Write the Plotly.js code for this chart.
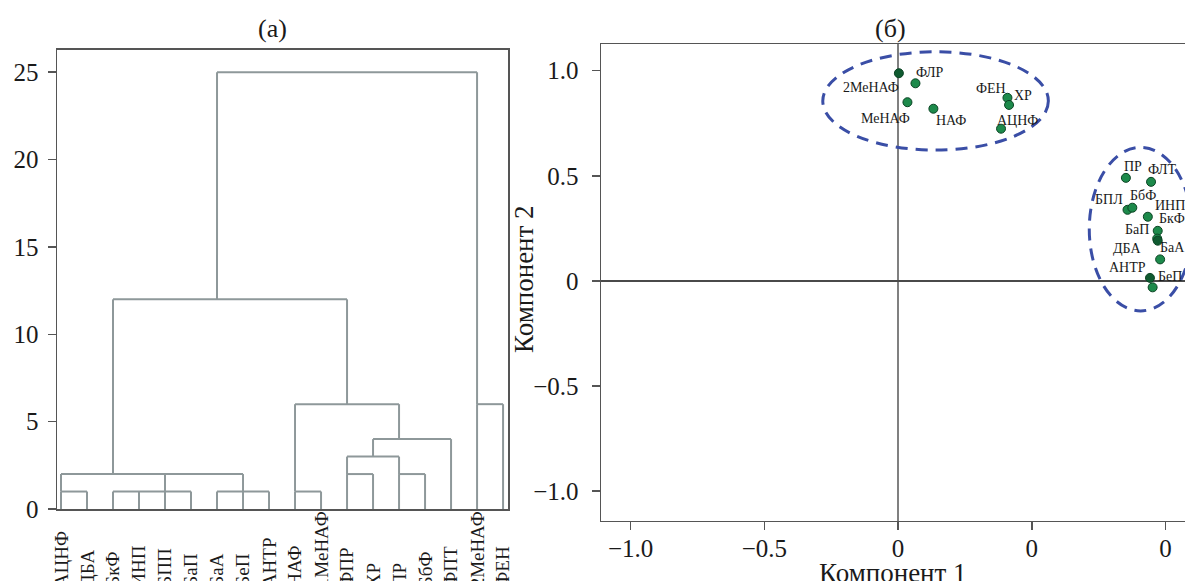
<!DOCTYPE html>
<html><head><meta charset="utf-8">
<script src="https://cdn.plot.ly/plotly-3.0.1.min.js"></script>
<style>html,body{margin:0;padding:0;background:#fff;overflow:hidden}#chart{width:1185px;height:581px}</style>
</head><body><div id="chart"></div>
<script>
// ---- Panel (а): dendrogram data ----
const leafLabels = ['АЦНФ','ДБА','БкФ','ИНП','БПП','БаП','БаА','БеП','АНТР','НАФ','1МеНАФ','ФПР','ХР','ПР','БбФ','ФПТ','2МеНАФ','ФЕН'];
const linkHeights = [1, 1, 1, 2, 1, 2, 2, 3, 4, 6, 12, 6, 25];
const linkLegs = [[0,1],[2,3,4,5],[6,7,8],[0,4,7],[9,10],[11,12],[13,14],[11,13],[12,15],[9,13],[2,11],[16,17],[6,16]];
const linkLegBases = [[0,0],[0,0,0,0],[0,0,0],[1,1,1],[0,0],[0,0],[0,0],[2,2],[3,0],[1,4],[2,6],[0,0],[12,6]];
const yTicksA = [0, 5, 10, 15, 20, 25];

// ---- Panel (б): PCA loadings ----
const pcaLabels = ['2МеНАФ','ФЛР','МеНАФ','НАФ','ФЕН','ХР','АЦНФ','ПР','ФЛТ','БПЛ','БбФ','ИНП','БкФ','БаП','ДБА','БаА','АНТР','БеП'];
const pc1 = [0.003, 0.065, 0.035, 0.132, 0.409, 0.415, 0.385, 0.852, 0.946, 0.858, 0.876, 0.934, 0.971, 0.969, 0.971, 0.980, 0.942, 0.952];
const pc2 = [0.988, 0.940, 0.850, 0.819, 0.871, 0.837, 0.724, 0.490, 0.471, 0.338, 0.348, 0.305, 0.238, 0.201, 0.191, 0.102, 0.014, -0.031];
const xTickVals = [-1, -0.5, 0, 0.5, 1];
const xTickText = ['−1.0', '−0.5', '0', '0', '0'];
const yTickVals = [-1, -0.5, 0, 0.5, 1];
const yTickText = ['−1.0', '−0.5', '0', '0.5', '1.0'];

// ---- styling (not data) ----
const FONT = 'Liberation Serif, Times New Roman, serif';
const labelShift = { // pixel offsets of the point labels [dx, dy(down)]
  '2МеНАФ':[-28,14],'ФЛР':[15,-11],'МеНАФ':[-22,16],'НАФ':[18,12],'ФЕН':[-16,-9],'ХР':[14,-9],'АЦНФ':[16,-8],
  'ПР':[7,-11],'ФЛТ':[11,-12],'БПЛ':[-19,-10],'БбФ':[11,-12],'ИНП':[22,-11],'БкФ':[14,-12],'БаП':[-20,-9],
  'ДБА':[-31,8],'БаА':[12,-12],'АНТР':[-22,-10],'БеП':[17,-11]
};
const darkPts = new Set(['2МеНАФ','ДБА','АНТР']);

// build dendrogram segments from link data
const dx = [], dy = [];
linkHeights.forEach((h, i) => {
  const legs = linkLegs[i];
  dx.push(Math.min(...legs), Math.max(...legs), null);
  dy.push(h, h, null);
  legs.forEach((leg, j) => {
    dx.push(leg, leg, null);
    dy.push(linkLegBases[i][j], h, null);
  });
});

const traces = [
  {type:'scatter', mode:'lines', x:dx, y:dy, xaxis:'x', yaxis:'y',
   line:{color:'#8e989a', width:2}, hoverinfo:'skip', showlegend:false, connectgaps:false},
  {type:'scatter', mode:'markers', x:pc1, y:pc2, xaxis:'x2', yaxis:'y2', text:pcaLabels,
   marker:{size:9, color:pcaLabels.map(l => darkPts.has(l) ? '#0f5a30' : '#1d8a4b'),
           line:{color:'#0b4424', width:1}}, showlegend:false, hoverinfo:'text'}
];

const annotations = [];
leafLabels.forEach((lab, i) => {
  annotations.push({xref:'x', yref:'paper', x:i, y:-0.014, text:lab, textangle:-90,
    xanchor:'center', yanchor:'bottom', showarrow:false, font:{family:FONT, size:19, color:'#1a1a1a'}});
});
pcaLabels.forEach((lab, i) => {
  const s = labelShift[lab];
  annotations.push({xref:'x2', yref:'y2', x:pc1[i], y:pc2[i], text:lab, showarrow:false,
    xshift:s[0], yshift:-s[1], xanchor:'center', yanchor:'middle',
    font:{family:FONT, size:14, color:'#1a1a1a'}});
});
annotations.push(
  {xref:'paper', yref:'paper', x:272/1185, y:(581-28)/581, text:'(а)', showarrow:false, xanchor:'center', yanchor:'middle', font:{family:FONT, size:26, color:'#1a1a1a'}},
  {xref:'paper', yref:'paper', x:890/1185, y:(581-28)/581, text:'(б)', showarrow:false, xanchor:'center', yanchor:'middle', font:{family:FONT, size:26, color:'#1a1a1a'}},
  {xref:'paper', yref:'paper', x:893/1185, y:(581-573)/581, text:'Компонент 1', showarrow:false, xanchor:'center', yanchor:'middle', font:{family:FONT, size:27, color:'#1a1a1a'}},
  {xref:'paper', yref:'paper', x:524/1185, y:(581-279)/581, text:'Компонент 2', textangle:-90, showarrow:false, xanchor:'center', yanchor:'middle', font:{family:FONT, size:27, color:'#1a1a1a'}}
);

const axLine = '#555';
const tf = {family:FONT, size:25, color:'#1a1a1a'};
const layout = {
  width:1185, height:581, autosize:false,
  margin:{l:0, r:0, t:0, b:0, pad:0},
  paper_bgcolor:'#fff', plot_bgcolor:'#fff',
  font:{family:FONT, size:24, color:'#1a1a1a'},
  xaxis:{domain:[57/1185, 508/1185], anchor:'y', range:[-0.154, 17.19], showticklabels:false, ticks:'',
         showgrid:false, zeroline:false, showline:true, mirror:true, linecolor:axLine, linewidth:1.5, automargin:false},
  yaxis:{domain:[(581-509)/581, (581-49.5)/581], anchor:'x', range:[0, 26.3], tickvals:yTicksA,
         ticks:'outside', ticklen:8, tickwidth:1.5, tickcolor:axLine, showgrid:false, zeroline:false,
         showline:true, mirror:true, linecolor:axLine, linewidth:1.5, automargin:false,
         ticklabelstandoff:4, tickfont:tf},
  xaxis2:{domain:[601/1185, 1], anchor:'y2', range:[-1.111, 1.073], tickvals:xTickVals, ticktext:xTickText,
          ticks:'outside', ticklen:8, tickwidth:1.5, tickcolor:axLine, showgrid:false,
          zeroline:true, zerolinecolor:'#808080', zerolinewidth:2,
          showline:true, mirror:true, linecolor:axLine, linewidth:1.5, automargin:false,
          ticklabelstandoff:-3, tickfont:tf},
  yaxis2:{domain:[(581-520.6)/581, (581-44)/581], anchor:'x2', range:[-1.141, 1.127], tickvals:yTickVals, ticktext:yTickText,
          ticks:'outside', ticklen:8, tickwidth:1.5, tickcolor:axLine, showgrid:false,
          zeroline:true, zerolinecolor:'#4a4a4a', zerolinewidth:1.5,
          showline:true, mirror:false, linecolor:axLine, linewidth:1.5, automargin:false,
          ticklabelstandoff:8, tickfont:tf},
  shapes:[
    {type:'circle', xref:'x2', yref:'y2', x0:-0.2816, x1:0.562, y0:0.622, y1:1.090,
     line:{color:'#3a4ea6', width:3, dash:'12px,8px'}},
    {type:'circle', xref:'x2', yref:'y2', x0:0.715, x1:1.099, y0:-0.143, y1:0.635,
     line:{color:'#3a4ea6', width:3, dash:'12px,8px'}}
  ],
  annotations:annotations,
  showlegend:false
};

Plotly.newPlot('chart', traces, layout, {staticPlot:true, displayModeBar:false});
</script>
</body></html>
